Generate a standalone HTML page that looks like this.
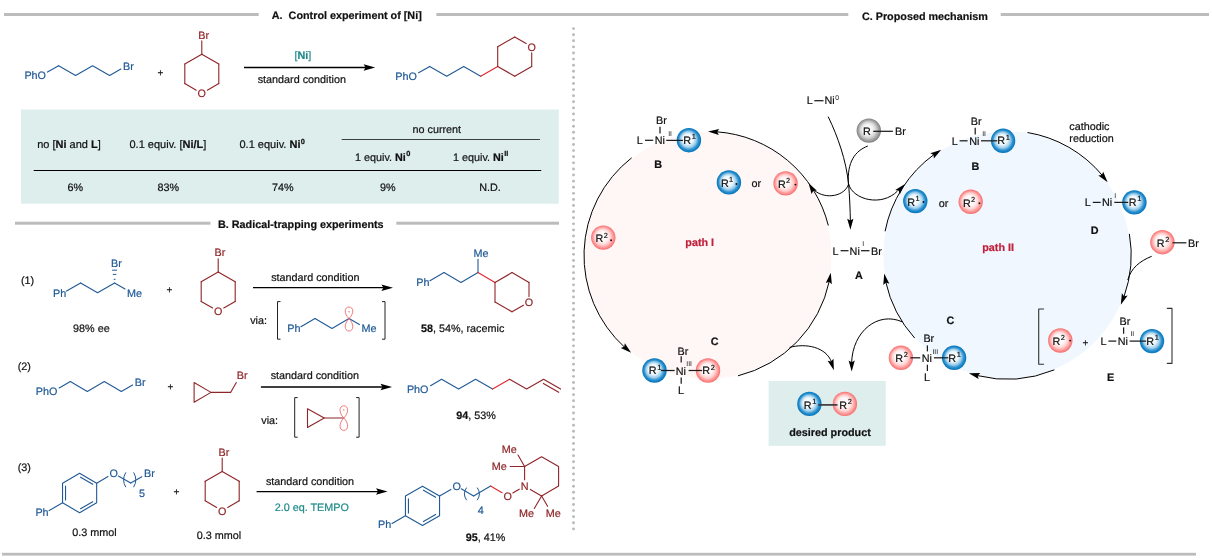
<!DOCTYPE html>
<html><head><meta charset="utf-8"><title>Mechanistic studies</title>
<style>html,body{margin:0;padding:0;background:#fff}svg{display:block;will-change:transform}text{font-family:"Liberation Sans",sans-serif;text-rendering:geometricPrecision}</style>
</head><body>
<svg width="1212" height="560" viewBox="0 0 1212 560">
<defs>
<radialGradient id="gb" cx="0.5" cy="0.5" r="0.5" fx="0.43" fy="0.42"><stop offset="0" stop-color="#ffffff"/><stop offset="0.42" stop-color="#ecf6fc"/><stop offset="0.64" stop-color="#9fcfeb"/><stop offset="0.82" stop-color="#2d91cf"/><stop offset="0.95" stop-color="#0a7cc3"/><stop offset="1" stop-color="#0a70b4"/></radialGradient>
<radialGradient id="gr" cx="0.5" cy="0.5" r="0.5" fx="0.43" fy="0.42"><stop offset="0" stop-color="#ffffff"/><stop offset="0.42" stop-color="#fff6f6"/><stop offset="0.64" stop-color="#ffd5d5"/><stop offset="0.84" stop-color="#ff9999"/><stop offset="0.95" stop-color="#f97a7a"/><stop offset="1" stop-color="#f27070"/></radialGradient>
<radialGradient id="gg" cx="0.5" cy="0.5" r="0.5" fx="0.43" fy="0.42"><stop offset="0" stop-color="#ffffff"/><stop offset="0.42" stop-color="#f2f2f2"/><stop offset="0.64" stop-color="#d3d3d3"/><stop offset="0.84" stop-color="#a2a2a2"/><stop offset="0.95" stop-color="#8a8a8a"/><stop offset="1" stop-color="#7e7e7e"/></radialGradient>
</defs>
<rect width="1212" height="560" fill="#ffffff"/>
<g id="mechanism">
<circle cx="708" cy="255.5" r="123.4" fill="#fff6f6"/>
<circle cx="1007" cy="255" r="123.60000000000001" fill="#f0f7fe"/>
<path d="M631.66,157.79 A124.0,124.0 0 0 0 624.66,347.32" fill="none" stroke="#000" stroke-width="1.0"/>
<polygon points="631.15,352.81 620.80,347.96 624.19,346.80 624.85,343.27" fill="#000"/>
<path d="M738.00,375.82 A124.0,124.0 0 0 0 829.32,281.13" fill="none" stroke="#000" stroke-width="1.0"/>
<polygon points="830.79,272.76 831.83,284.14 829.11,281.80 825.73,283.00" fill="#000"/>
<path d="M828.32,225.50 A124.0,124.0 0 0 0 716.49,131.79" fill="none" stroke="#000" stroke-width="1.0"/>
<polygon points="708.00,131.50 719.13,128.89 717.19,131.91 718.85,135.08" fill="#000"/>
<polygon points="808.57,182.97 816.89,190.80 813.31,190.85 811.58,193.99" fill="#000"/>
<path d="M885.08,231.30 A124.2,124.2 0 0 1 934.14,154.42" fill="none" stroke="#000" stroke-width="1.0"/>
<polygon points="941.18,149.67 933.88,158.46 933.61,154.89 930.37,153.36" fill="#000"/>
<polygon points="905.01,184.12 899.78,194.28 898.74,190.85 895.24,190.05" fill="#000"/>
<path d="M1027.50,132.50 A124.2,124.2 0 0 1 1102.39,175.46" fill="none" stroke="#000" stroke-width="1.0"/>
<polygon points="1107.61,182.17 1098.34,175.48 1101.89,174.97 1103.20,171.63" fill="#000"/>
<path d="M1129.39,233.86 A124.2,124.2 0 0 1 1123.95,296.82" fill="none" stroke="#000" stroke-width="1.0"/>
<polygon points="1120.81,304.72 1121.87,293.34 1124.12,296.14 1127.66,295.57" fill="#000"/>
<path d="M1054.33,369.83 A124.2,124.2 0 0 1 977.00,375.52" fill="none" stroke="#000" stroke-width="1.0"/>
<polygon points="968.83,373.19 980.25,373.11 977.70,375.63 978.61,379.09" fill="#000"/>
<path d="M914.70,338.11 A124.2,124.2 0 0 1 885.75,281.93" fill="none" stroke="#000" stroke-width="1.0"/>
<polygon points="884.20,273.57 889.36,283.77 885.97,282.60 883.28,284.96" fill="#000"/>
<path d="M828.2,116.7 C838,137 846,160 848.6,184 C849.6,196 850.2,210 850.4,222" fill="none" stroke="#000" stroke-width="1.0"/>
<polygon points="850.40,229.80 847.20,218.83 850.32,220.60 853.40,218.77" fill="#000"/>
<path d="M867.8,146 C855,151 847,162 848.4,184" fill="none" stroke="#000" stroke-width="1.0"/>
<path d="M848.6,184 C845,196 826,200 814.5,190.5" fill="none" stroke="#000" stroke-width="1.0"/>
<path d="M848.6,184 C853,200 882,207 897.5,191" fill="none" stroke="#000" stroke-width="1.0"/>
<path d="M789.6,347.4 C806,343 826,347 831.5,362" fill="none" stroke="#000" stroke-width="1.0"/>
<polygon points="833.90,370.20 827.55,360.70 831.06,361.45 833.45,358.78" fill="#000"/>
<path d="M902.4,321.9 C878,311 852.5,331 851.6,363" fill="none" stroke="#000" stroke-width="1.0"/>
<polygon points="851.70,371.50 848.60,360.50 851.70,362.30 854.80,360.50" fill="#000"/>
<path d="M1151.7,256.3 C1140,261 1131,268 1127.8,280" fill="none" stroke="#000" stroke-width="1.0"/>
<text x="656.00" y="124.30" fill="#111" stroke="#111" stroke-width="0.2" font-size="10.8" text-anchor="start">Br</text>
<line x1="660.00" y1="126.80" x2="660.00" y2="133.50" stroke="#1c1c1c" stroke-width="1.25" stroke-linecap="butt"/>
<text x="636.70" y="143.60" fill="#111" stroke="#111" stroke-width="0.2" font-size="10.8" text-anchor="start">L</text>
<line x1="645.00" y1="140.30" x2="653.20" y2="140.30" stroke="#1c1c1c" stroke-width="1.25" stroke-linecap="butt"/>
<text x="654.70" y="143.60" fill="#111" stroke="#111" stroke-width="0.2" font-size="10.8" text-anchor="start">Ni</text>
<text x="668.2" y="135.6" fill="#111" font-size="6.8">II</text>
<circle cx="688.9" cy="140.2" r="12.2" fill="url(#gb)"/>
<line x1="666.20" y1="140.40" x2="683.00" y2="140.40" stroke="#1c1c1c" stroke-width="1.25" stroke-linecap="butt"/>
<text x="683.15" y="143.70" fill="#111" stroke="#111" stroke-width="0.2" font-size="10.8">R<tspan font-size="7.4" dy="-4.8" dx="0.7">1</tspan></text>
<text x="654.30" y="168.40" fill="#111" stroke="#111" stroke-width="0.2" font-size="10.8" font-weight="bold" text-anchor="start">B</text>
<circle cx="728.9" cy="182.4" r="12.2" fill="url(#gb)"/>
<text x="720.90" y="187.20" fill="#111" stroke="#111" stroke-width="0.2" font-size="10.8">R<tspan font-size="7.4" dy="-4.9" dx="0.3">1</tspan></text>
<circle cx="736.40" cy="184.00" r="0.95" fill="#111"/>
<text x="751.40" y="187.20" fill="#111" stroke="#111" stroke-width="0.2" font-size="10.8" text-anchor="start">or</text>
<circle cx="785.6" cy="183.4" r="12.2" fill="url(#gr)"/>
<text x="777.90" y="188.20" fill="#111" stroke="#111" stroke-width="0.2" font-size="10.8">R<tspan font-size="7.4" dy="-4.9" dx="0.3">2</tspan></text>
<circle cx="795.40" cy="184.60" r="0.95" fill="#111"/>
<circle cx="603.3" cy="237.6" r="12.2" fill="url(#gr)"/>
<text x="595.60" y="242.40" fill="#111" stroke="#111" stroke-width="0.2" font-size="10.8">R<tspan font-size="7.4" dy="-4.9" dx="0.3">2</tspan></text>
<circle cx="611.10" cy="240.20" r="0.95" fill="#111"/>
<text x="685.30" y="245.80" fill="#c0203a" stroke="#c0203a" stroke-width="0.2" font-size="10.8" font-weight="bold" text-anchor="start">path I</text>
<text x="710.70" y="345.00" fill="#111" stroke="#111" stroke-width="0.2" font-size="10.8" font-weight="bold" text-anchor="start">C</text>
<text x="677.50" y="354.50" fill="#111" stroke="#111" stroke-width="0.2" font-size="10.8" text-anchor="start">Br</text>
<line x1="681.20" y1="356.20" x2="681.20" y2="362.60" stroke="#1c1c1c" stroke-width="1.25" stroke-linecap="butt"/>
<text x="675.70" y="374.50" fill="#111" stroke="#111" stroke-width="0.2" font-size="10.8" text-anchor="start">Ni</text>
<text x="686.3" y="366" fill="#111" font-size="6.8">III</text>
<line x1="681.20" y1="377.50" x2="681.20" y2="383.80" stroke="#1c1c1c" stroke-width="1.25" stroke-linecap="butt"/>
<text x="678.00" y="393.70" fill="#111" stroke="#111" stroke-width="0.2" font-size="10.8" text-anchor="start">L</text>
<circle cx="654.5" cy="370.5" r="12.2" fill="url(#gb)"/>
<circle cx="708" cy="370.5" r="12.2" fill="url(#gr)"/>
<line x1="661.00" y1="370.50" x2="674.60" y2="370.50" stroke="#1c1c1c" stroke-width="1.25" stroke-linecap="butt"/>
<line x1="688.60" y1="370.50" x2="702.20" y2="370.50" stroke="#1c1c1c" stroke-width="1.25" stroke-linecap="butt"/>
<text x="648.75" y="374.30" fill="#111" stroke="#111" stroke-width="0.2" font-size="10.8">R<tspan font-size="7.4" dy="-4.8" dx="0.7">1</tspan></text>
<text x="702.25" y="374.30" fill="#111" stroke="#111" stroke-width="0.2" font-size="10.8">R<tspan font-size="7.4" dy="-4.8" dx="0.7">2</tspan></text>
<rect x="768.6" y="381" width="117.1" height="64.8" fill="#ddeeed"/>
<circle cx="809.4" cy="403.9" r="12.2" fill="url(#gb)"/>
<circle cx="844.9" cy="403.9" r="12.2" fill="url(#gr)"/>
<line x1="818.20" y1="404.90" x2="837.50" y2="404.90" stroke="#3a3a3a" stroke-width="1.7" stroke-linecap="butt"/>
<text x="803.65" y="408.60" fill="#111" stroke="#111" stroke-width="0.2" font-size="10.8">R<tspan font-size="7.4" dy="-4.8" dx="0.7">1</tspan></text>
<text x="839.15" y="408.60" fill="#111" stroke="#111" stroke-width="0.2" font-size="10.8">R<tspan font-size="7.4" dy="-4.8" dx="0.7">2</tspan></text>
<text x="789.20" y="436.20" fill="#111" stroke="#111" stroke-width="0.2" font-size="10.8" font-weight="bold" text-anchor="start">desired product</text>
<text x="806.80" y="104.40" fill="#111" stroke="#111" stroke-width="0.2" font-size="10.8" text-anchor="start">L</text>
<line x1="814.30" y1="100.70" x2="823.50" y2="100.70" stroke="#1c1c1c" stroke-width="1.25" stroke-linecap="butt"/>
<text x="824.50" y="104.40" fill="#111" stroke="#111" stroke-width="0.2" font-size="10.8" text-anchor="start">Ni</text>
<text x="835.2" y="100" fill="#111" font-size="6.8">0</text>
<circle cx="868.8" cy="130.6" r="12.2" fill="url(#gg)"/>
<line x1="873.20" y1="131.30" x2="892.90" y2="131.30" stroke="#1c1c1c" stroke-width="1.25" stroke-linecap="butt"/>
<text x="863.05" y="135.30" fill="#111" stroke="#111" stroke-width="0.2" font-size="10.8">R</text>
<text x="895.00" y="135.30" fill="#111" stroke="#111" stroke-width="0.2" font-size="10.8" text-anchor="start">Br</text>
<text x="832.50" y="254.50" fill="#111" stroke="#111" stroke-width="0.2" font-size="10.8" text-anchor="start">L</text>
<line x1="840.60" y1="250.70" x2="848.50" y2="250.70" stroke="#1c1c1c" stroke-width="1.25" stroke-linecap="butt"/>
<text x="849.60" y="254.50" fill="#111" stroke="#111" stroke-width="0.2" font-size="10.8" text-anchor="start">Ni</text>
<text x="862.3" y="245.8" fill="#111" font-size="6.8">I</text>
<line x1="861.00" y1="250.70" x2="869.50" y2="250.70" stroke="#1c1c1c" stroke-width="1.25" stroke-linecap="butt"/>
<text x="871.00" y="254.50" fill="#111" stroke="#111" stroke-width="0.2" font-size="10.8" text-anchor="start">Br</text>
<text x="854.90" y="279.30" fill="#111" stroke="#111" stroke-width="0.2" font-size="10.8" font-weight="bold" text-anchor="start">A</text>
<text x="970.70" y="125.30" fill="#111" stroke="#111" stroke-width="0.2" font-size="10.8" text-anchor="start">Br</text>
<line x1="975.20" y1="127.80" x2="975.20" y2="134.40" stroke="#1c1c1c" stroke-width="1.25" stroke-linecap="butt"/>
<text x="951.70" y="144.60" fill="#111" stroke="#111" stroke-width="0.2" font-size="10.8" text-anchor="start">L</text>
<line x1="959.60" y1="140.80" x2="967.60" y2="140.80" stroke="#1c1c1c" stroke-width="1.25" stroke-linecap="butt"/>
<text x="969.30" y="144.60" fill="#111" stroke="#111" stroke-width="0.2" font-size="10.8" text-anchor="start">Ni</text>
<text x="982.2" y="136.2" fill="#111" font-size="6.8">II</text>
<circle cx="1003.1" cy="140.8" r="12.2" fill="url(#gb)"/>
<line x1="981.00" y1="140.80" x2="997.30" y2="140.80" stroke="#1c1c1c" stroke-width="1.25" stroke-linecap="butt"/>
<text x="997.35" y="144.40" fill="#111" stroke="#111" stroke-width="0.2" font-size="10.8">R<tspan font-size="7.4" dy="-4.8" dx="0.7">1</tspan></text>
<text x="971.40" y="170.20" fill="#111" stroke="#111" stroke-width="0.2" font-size="10.8" font-weight="bold" text-anchor="start">B</text>
<circle cx="915.3" cy="201.1" r="12.2" fill="url(#gb)"/>
<text x="907.30" y="205.90" fill="#111" stroke="#111" stroke-width="0.2" font-size="10.8">R<tspan font-size="7.4" dy="-4.9" dx="0.3">1</tspan></text>
<circle cx="923.50" cy="202.00" r="0.95" fill="#111"/>
<text x="938.80" y="206.60" fill="#111" stroke="#111" stroke-width="0.2" font-size="10.8" text-anchor="start">or</text>
<circle cx="970.7" cy="201.8" r="12.2" fill="url(#gr)"/>
<text x="963.00" y="206.60" fill="#111" stroke="#111" stroke-width="0.2" font-size="10.8">R<tspan font-size="7.4" dy="-4.9" dx="0.3">2</tspan></text>
<circle cx="979.40" cy="203.20" r="0.95" fill="#111"/>
<text x="982.20" y="250.70" fill="#c0203a" stroke="#c0203a" stroke-width="0.2" font-size="10.8" font-weight="bold" text-anchor="start">path II</text>
<text x="1069.30" y="129.50" fill="#111" stroke="#111" stroke-width="0.2" font-size="10.8" text-anchor="start">cathodic</text>
<text x="1069.30" y="142.20" fill="#111" stroke="#111" stroke-width="0.2" font-size="10.8" text-anchor="start">reduction</text>
<text x="1084.70" y="206.00" fill="#111" stroke="#111" stroke-width="0.2" font-size="10.8" text-anchor="start">L</text>
<line x1="1092.80" y1="202.40" x2="1100.70" y2="202.40" stroke="#1c1c1c" stroke-width="1.25" stroke-linecap="butt"/>
<text x="1102.00" y="206.00" fill="#111" stroke="#111" stroke-width="0.2" font-size="10.8" text-anchor="start">Ni</text>
<text x="1114.2" y="197.6" fill="#111" font-size="6.8">I</text>
<circle cx="1134.4" cy="202.4" r="12.2" fill="url(#gb)"/>
<line x1="1114.30" y1="202.40" x2="1128.20" y2="202.40" stroke="#1c1c1c" stroke-width="1.25" stroke-linecap="butt"/>
<text x="1128.65" y="205.90" fill="#111" stroke="#111" stroke-width="0.2" font-size="10.8">R<tspan font-size="7.4" dy="-4.8" dx="0.7">1</tspan></text>
<text x="1090.70" y="233.80" fill="#111" stroke="#111" stroke-width="0.2" font-size="10.8" font-weight="bold" text-anchor="start">D</text>
<circle cx="1162.4" cy="242.2" r="12.2" fill="url(#gr)"/>
<line x1="1172.50" y1="242.80" x2="1186.40" y2="242.80" stroke="#1c1c1c" stroke-width="1.25" stroke-linecap="butt"/>
<text x="1156.65" y="246.70" fill="#111" stroke="#111" stroke-width="0.2" font-size="10.8">R<tspan font-size="7.4" dy="-4.8" dx="0.7">2</tspan></text>
<text x="1188.10" y="246.70" fill="#111" stroke="#111" stroke-width="0.2" font-size="10.8" text-anchor="start">Br</text>
<path d="M1043.60,309.00 L1038.70,309.00 L1038.70,364.30 L1043.60,364.30" fill="none" stroke="#333" stroke-width="1.1" stroke-linecap="round" stroke-linejoin="round"/>
<path d="M1167.30,308.40 L1172.00,308.40 L1172.00,363.40 L1167.30,363.40" fill="none" stroke="#333" stroke-width="1.1" stroke-linecap="round" stroke-linejoin="round"/>
<circle cx="1060.3" cy="340.5" r="12.2" fill="url(#gr)"/>
<text x="1052.60" y="345.30" fill="#111" stroke="#111" stroke-width="0.2" font-size="10.8">R<tspan font-size="7.4" dy="-4.9" dx="0.3">2</tspan></text>
<circle cx="1070.10" cy="340.60" r="0.95" fill="#111"/>
<text x="1085.40" y="346.15" fill="#111111" stroke="#111111" stroke-width="0.2" font-size="10.0" text-anchor="middle">+</text>
<text x="1100.60" y="344.70" fill="#111" stroke="#111" stroke-width="0.2" font-size="10.8" text-anchor="start">L</text>
<line x1="1108.40" y1="341.10" x2="1116.30" y2="341.10" stroke="#1c1c1c" stroke-width="1.25" stroke-linecap="butt"/>
<text x="1117.70" y="344.70" fill="#111" stroke="#111" stroke-width="0.2" font-size="10.8" text-anchor="start">Ni</text>
<text x="1119.60" y="325.00" fill="#111" stroke="#111" stroke-width="0.2" font-size="10.8" text-anchor="start">Br</text>
<line x1="1123.60" y1="327.40" x2="1123.60" y2="333.80" stroke="#1c1c1c" stroke-width="1.25" stroke-linecap="butt"/>
<text x="1130.4" y="336.3" fill="#111" font-size="6.8">II</text>
<circle cx="1152" cy="341.1" r="12.2" fill="url(#gb)"/>
<line x1="1129.60" y1="341.10" x2="1146.20" y2="341.10" stroke="#1c1c1c" stroke-width="1.25" stroke-linecap="butt"/>
<text x="1146.25" y="344.60" fill="#111" stroke="#111" stroke-width="0.2" font-size="10.8">R<tspan font-size="7.4" dy="-4.8" dx="0.7">1</tspan></text>
<text x="1106.90" y="380.80" fill="#111" stroke="#111" stroke-width="0.2" font-size="10.8" font-weight="bold" text-anchor="start">E</text>
<text x="946.60" y="323.80" fill="#111" stroke="#111" stroke-width="0.2" font-size="10.8" font-weight="bold" text-anchor="start">C</text>
<text x="923.40" y="341.50" fill="#111" stroke="#111" stroke-width="0.2" font-size="10.8" text-anchor="start">Br</text>
<line x1="927.40" y1="345.40" x2="927.40" y2="351.40" stroke="#1c1c1c" stroke-width="1.25" stroke-linecap="butt"/>
<text x="921.70" y="361.80" fill="#111" stroke="#111" stroke-width="0.2" font-size="10.8" text-anchor="start">Ni</text>
<text x="932.4" y="353.9" fill="#111" font-size="6.8">III</text>
<line x1="927.40" y1="364.70" x2="927.40" y2="371.00" stroke="#1c1c1c" stroke-width="1.25" stroke-linecap="butt"/>
<text x="924.00" y="380.80" fill="#111" stroke="#111" stroke-width="0.2" font-size="10.8" text-anchor="start">L</text>
<circle cx="900.9" cy="357.8" r="12.2" fill="url(#gr)"/>
<circle cx="954.1" cy="357.8" r="12.2" fill="url(#gb)"/>
<line x1="910.30" y1="357.80" x2="920.20" y2="357.80" stroke="#1c1c1c" stroke-width="1.25" stroke-linecap="butt"/>
<line x1="933.90" y1="357.80" x2="948.30" y2="357.80" stroke="#1c1c1c" stroke-width="1.25" stroke-linecap="butt"/>
<text x="895.15" y="361.70" fill="#111" stroke="#111" stroke-width="0.2" font-size="10.8">R<tspan font-size="7.4" dy="-4.8" dx="0.7">2</tspan></text>
<text x="948.35" y="361.70" fill="#111" stroke="#111" stroke-width="0.2" font-size="10.8">R<tspan font-size="7.4" dy="-4.8" dx="0.7">1</tspan></text>
</g>
<g id="experiments">
<rect x="4" y="13" width="254.70" height="3.00" fill="#bcbcbc"/>
<rect x="436.4" y="13" width="411.90" height="3.00" fill="#bcbcbc"/>
<rect x="1000.7" y="13" width="208.30" height="3.00" fill="#bcbcbc"/>
<text x="271.80" y="18.80" fill="#111" stroke="#111" stroke-width="0.2" font-size="10.8" font-weight="bold" text-anchor="start" style="white-space:pre">A.  Control experiment of [Ni]</text>
<text x="861.90" y="19.60" fill="#111" stroke="#111" stroke-width="0.2" font-size="10.8" font-weight="bold" text-anchor="start">C. Proposed mechanism</text>
<rect x="15" y="221.7" width="195.50" height="3.00" fill="#bcbcbc"/>
<rect x="396.3" y="221.7" width="162.70" height="3.00" fill="#bcbcbc"/>
<text x="218.00" y="228.10" fill="#111" stroke="#111" stroke-width="0.2" font-size="10.8" font-weight="bold" text-anchor="start">B. Radical-trapping experiments</text>
<rect x="2" y="552.8" width="1194.00" height="2.80" fill="#bcbcbc"/>
<circle cx="573.5" cy="28.60" r="1.45" fill="#b9b9b9"/>
<circle cx="573.5" cy="34.70" r="1.45" fill="#b9b9b9"/>
<circle cx="573.5" cy="40.80" r="1.45" fill="#b9b9b9"/>
<circle cx="573.5" cy="46.90" r="1.45" fill="#b9b9b9"/>
<circle cx="573.5" cy="53.00" r="1.45" fill="#b9b9b9"/>
<circle cx="573.5" cy="59.11" r="1.45" fill="#b9b9b9"/>
<circle cx="573.5" cy="65.21" r="1.45" fill="#b9b9b9"/>
<circle cx="573.5" cy="71.31" r="1.45" fill="#b9b9b9"/>
<circle cx="573.5" cy="77.41" r="1.45" fill="#b9b9b9"/>
<circle cx="573.5" cy="83.51" r="1.45" fill="#b9b9b9"/>
<circle cx="573.5" cy="89.61" r="1.45" fill="#b9b9b9"/>
<circle cx="573.5" cy="95.71" r="1.45" fill="#b9b9b9"/>
<circle cx="573.5" cy="101.81" r="1.45" fill="#b9b9b9"/>
<circle cx="573.5" cy="107.92" r="1.45" fill="#b9b9b9"/>
<circle cx="573.5" cy="114.02" r="1.45" fill="#b9b9b9"/>
<circle cx="573.5" cy="120.12" r="1.45" fill="#b9b9b9"/>
<circle cx="573.5" cy="126.22" r="1.45" fill="#b9b9b9"/>
<circle cx="573.5" cy="132.32" r="1.45" fill="#b9b9b9"/>
<circle cx="573.5" cy="138.42" r="1.45" fill="#b9b9b9"/>
<circle cx="573.5" cy="144.52" r="1.45" fill="#b9b9b9"/>
<circle cx="573.5" cy="150.62" r="1.45" fill="#b9b9b9"/>
<circle cx="573.5" cy="156.73" r="1.45" fill="#b9b9b9"/>
<circle cx="573.5" cy="162.83" r="1.45" fill="#b9b9b9"/>
<circle cx="573.5" cy="168.93" r="1.45" fill="#b9b9b9"/>
<circle cx="573.5" cy="175.03" r="1.45" fill="#b9b9b9"/>
<circle cx="573.5" cy="181.13" r="1.45" fill="#b9b9b9"/>
<circle cx="573.5" cy="187.23" r="1.45" fill="#b9b9b9"/>
<circle cx="573.5" cy="193.33" r="1.45" fill="#b9b9b9"/>
<circle cx="573.5" cy="199.43" r="1.45" fill="#b9b9b9"/>
<circle cx="573.5" cy="205.54" r="1.45" fill="#b9b9b9"/>
<circle cx="573.5" cy="211.64" r="1.45" fill="#b9b9b9"/>
<circle cx="573.5" cy="217.74" r="1.45" fill="#b9b9b9"/>
<circle cx="573.5" cy="223.84" r="1.45" fill="#b9b9b9"/>
<circle cx="573.5" cy="229.94" r="1.45" fill="#b9b9b9"/>
<circle cx="573.5" cy="236.04" r="1.45" fill="#b9b9b9"/>
<circle cx="573.5" cy="242.14" r="1.45" fill="#b9b9b9"/>
<circle cx="573.5" cy="248.24" r="1.45" fill="#b9b9b9"/>
<circle cx="573.5" cy="254.35" r="1.45" fill="#b9b9b9"/>
<circle cx="573.5" cy="260.45" r="1.45" fill="#b9b9b9"/>
<circle cx="573.5" cy="266.55" r="1.45" fill="#b9b9b9"/>
<circle cx="573.5" cy="272.65" r="1.45" fill="#b9b9b9"/>
<circle cx="573.5" cy="278.75" r="1.45" fill="#b9b9b9"/>
<circle cx="573.5" cy="284.85" r="1.45" fill="#b9b9b9"/>
<circle cx="573.5" cy="290.95" r="1.45" fill="#b9b9b9"/>
<circle cx="573.5" cy="297.05" r="1.45" fill="#b9b9b9"/>
<circle cx="573.5" cy="303.15" r="1.45" fill="#b9b9b9"/>
<circle cx="573.5" cy="309.26" r="1.45" fill="#b9b9b9"/>
<circle cx="573.5" cy="315.36" r="1.45" fill="#b9b9b9"/>
<circle cx="573.5" cy="321.46" r="1.45" fill="#b9b9b9"/>
<circle cx="573.5" cy="327.56" r="1.45" fill="#b9b9b9"/>
<circle cx="573.5" cy="333.66" r="1.45" fill="#b9b9b9"/>
<circle cx="573.5" cy="339.76" r="1.45" fill="#b9b9b9"/>
<circle cx="573.5" cy="345.86" r="1.45" fill="#b9b9b9"/>
<circle cx="573.5" cy="351.96" r="1.45" fill="#b9b9b9"/>
<circle cx="573.5" cy="358.07" r="1.45" fill="#b9b9b9"/>
<circle cx="573.5" cy="364.17" r="1.45" fill="#b9b9b9"/>
<circle cx="573.5" cy="370.27" r="1.45" fill="#b9b9b9"/>
<circle cx="573.5" cy="376.37" r="1.45" fill="#b9b9b9"/>
<circle cx="573.5" cy="382.47" r="1.45" fill="#b9b9b9"/>
<circle cx="573.5" cy="388.57" r="1.45" fill="#b9b9b9"/>
<circle cx="573.5" cy="394.67" r="1.45" fill="#b9b9b9"/>
<circle cx="573.5" cy="400.77" r="1.45" fill="#b9b9b9"/>
<circle cx="573.5" cy="406.88" r="1.45" fill="#b9b9b9"/>
<circle cx="573.5" cy="412.98" r="1.45" fill="#b9b9b9"/>
<circle cx="573.5" cy="419.08" r="1.45" fill="#b9b9b9"/>
<circle cx="573.5" cy="425.18" r="1.45" fill="#b9b9b9"/>
<circle cx="573.5" cy="431.28" r="1.45" fill="#b9b9b9"/>
<circle cx="573.5" cy="437.38" r="1.45" fill="#b9b9b9"/>
<circle cx="573.5" cy="443.48" r="1.45" fill="#b9b9b9"/>
<circle cx="573.5" cy="449.58" r="1.45" fill="#b9b9b9"/>
<circle cx="573.5" cy="455.69" r="1.45" fill="#b9b9b9"/>
<circle cx="573.5" cy="461.79" r="1.45" fill="#b9b9b9"/>
<circle cx="573.5" cy="467.89" r="1.45" fill="#b9b9b9"/>
<circle cx="573.5" cy="473.99" r="1.45" fill="#b9b9b9"/>
<circle cx="573.5" cy="480.09" r="1.45" fill="#b9b9b9"/>
<circle cx="573.5" cy="486.19" r="1.45" fill="#b9b9b9"/>
<circle cx="573.5" cy="492.29" r="1.45" fill="#b9b9b9"/>
<circle cx="573.5" cy="498.39" r="1.45" fill="#b9b9b9"/>
<circle cx="573.5" cy="504.50" r="1.45" fill="#b9b9b9"/>
<circle cx="573.5" cy="510.60" r="1.45" fill="#b9b9b9"/>
<circle cx="573.5" cy="516.70" r="1.45" fill="#b9b9b9"/>
<circle cx="573.5" cy="522.80" r="1.45" fill="#b9b9b9"/>
<circle cx="573.5" cy="528.90" r="1.45" fill="#b9b9b9"/>
<text x="24.40" y="79.40" fill="#215a96" stroke="#215a96" stroke-width="0.2" font-size="10.8" text-anchor="start">PhO</text>
<line x1="47.49" y1="72.10" x2="58.60" y2="65.70" stroke="#215a96" stroke-width="1.1" stroke-linecap="round"/>
<path d="M58.60,65.70 L75.60,75.50 L92.60,65.70 L109.60,75.50" fill="none" stroke="#215a96" stroke-width="1.1" stroke-linecap="round" stroke-linejoin="round"/>
<line x1="109.60" y1="75.50" x2="120.88" y2="69.00" stroke="#215a96" stroke-width="1.1" stroke-linecap="round"/>
<text x="123.00" y="69.60" fill="#215a96" stroke="#215a96" stroke-width="0.2" font-size="10.8" text-anchor="start">Br</text>
<text x="160.30" y="75.95" fill="#111111" stroke="#111111" stroke-width="0.2" font-size="10.0" text-anchor="middle">+</text>
<line x1="201.80" y1="54.20" x2="218.80" y2="64.00" stroke="#8e2528" stroke-width="1.1" stroke-linecap="round"/>
<line x1="218.80" y1="64.00" x2="218.80" y2="83.60" stroke="#8e2528" stroke-width="1.1" stroke-linecap="round"/>
<line x1="218.80" y1="83.60" x2="207.34" y2="90.20" stroke="#8e2528" stroke-width="1.1" stroke-linecap="round"/>
<line x1="196.26" y1="90.20" x2="184.80" y2="83.60" stroke="#8e2528" stroke-width="1.1" stroke-linecap="round"/>
<line x1="184.80" y1="83.60" x2="184.80" y2="64.00" stroke="#8e2528" stroke-width="1.1" stroke-linecap="round"/>
<line x1="184.80" y1="64.00" x2="201.80" y2="54.20" stroke="#8e2528" stroke-width="1.1" stroke-linecap="round"/>
<text x="197.60" y="97.30" fill="#8e2528" stroke="#8e2528" stroke-width="0.2" font-size="10.8" text-anchor="start">O</text>
<line x1="201.80" y1="40.90" x2="201.80" y2="54.20" stroke="#8e2528" stroke-width="1.1" stroke-linecap="round"/>
<text x="198.20" y="38.50" fill="#8e2528" stroke="#8e2528" stroke-width="0.2" font-size="10.8" text-anchor="start">Br</text>
<line x1="244.00" y1="67.50" x2="366.20" y2="67.50" stroke="#000" stroke-width="1.3" stroke-linecap="butt"/>
<polygon points="375.20,67.50 363.60,70.75 365.60,67.50 363.60,64.25" fill="#000"/>
<text x="294.4" y="59.4" fill="#1f8a8c" stroke="#1f8a8c" stroke-width="0.2" font-size="10.8">[<tspan font-weight="bold">Ni</tspan>]</text>
<text x="257.70" y="83.00" fill="#111111" stroke="#111111" stroke-width="0.2" font-size="10.8" text-anchor="start">standard condition</text>
<text x="395.30" y="79.90" fill="#215a96" stroke="#215a96" stroke-width="0.2" font-size="10.8" text-anchor="start">PhO</text>
<line x1="418.59" y1="72.80" x2="429.70" y2="66.40" stroke="#215a96" stroke-width="1.1" stroke-linecap="round"/>
<path d="M429.70,66.40 L446.70,76.20 L463.70,66.40 L480.70,76.20" fill="none" stroke="#215a96" stroke-width="1.1" stroke-linecap="round" stroke-linejoin="round"/>
<line x1="480.70" y1="76.20" x2="497.70" y2="66.40" stroke="#e0282c" stroke-width="1.1" stroke-linecap="round"/>
<line x1="497.70" y1="66.40" x2="497.70" y2="46.80" stroke="#8e2528" stroke-width="1.1" stroke-linecap="round"/>
<line x1="497.70" y1="46.80" x2="514.70" y2="37.00" stroke="#8e2528" stroke-width="1.1" stroke-linecap="round"/>
<line x1="514.70" y1="37.00" x2="526.16" y2="43.60" stroke="#8e2528" stroke-width="1.1" stroke-linecap="round"/>
<line x1="531.70" y1="52.80" x2="531.70" y2="66.40" stroke="#8e2528" stroke-width="1.1" stroke-linecap="round"/>
<line x1="531.70" y1="66.40" x2="514.70" y2="76.20" stroke="#8e2528" stroke-width="1.1" stroke-linecap="round"/>
<line x1="514.70" y1="76.20" x2="497.70" y2="66.40" stroke="#8e2528" stroke-width="1.1" stroke-linecap="round"/>
<text x="527.50" y="50.70" fill="#8e2528" stroke="#8e2528" stroke-width="0.2" font-size="10.8" text-anchor="start">O</text>
<rect x="21" y="109.5" width="537.7" height="94.2" fill="#ddeeed"/>
<text x="37.20" y="148.00" fill="#111111" stroke="#111111" stroke-width="0.2" font-size="11" text-anchor="start">no [<tspan font-weight="bold">Ni</tspan> and <tspan font-weight="bold">L</tspan>]</text>
<text x="129.50" y="148.00" fill="#111111" stroke="#111111" stroke-width="0.2" font-size="11" text-anchor="start">0.1 equiv. [<tspan font-weight="bold">Ni/L</tspan>]</text>
<text x="239.50" y="148.00" fill="#111111" stroke="#111111" stroke-width="0.2" font-size="11" text-anchor="start">0.1 equiv. <tspan font-weight="bold">Ni</tspan><tspan font-weight="bold" font-size="7.4" dx="0.4" dy="-4.2">0</tspan></text>
<text x="412.50" y="133.00" fill="#111111" stroke="#111111" stroke-width="0.2" font-size="10.8" text-anchor="start">no current</text>
<line x1="341.70" y1="139.50" x2="540.00" y2="139.50" stroke="#111" stroke-width="0.8" stroke-linecap="butt"/>
<text x="355.00" y="160.50" fill="#111111" stroke="#111111" stroke-width="0.2" font-size="10.8" text-anchor="start">1 equiv. <tspan font-weight="bold">Ni</tspan><tspan font-weight="bold" font-size="7.4" dx="0.4" dy="-4.2">0</tspan></text>
<text x="453.00" y="160.50" fill="#111111" stroke="#111111" stroke-width="0.2" font-size="10.8" text-anchor="start">1 equiv. <tspan font-weight="bold">Ni</tspan><tspan font-weight="bold" font-size="7.4" dx="0.4" dy="-4.2">II</tspan></text>
<line x1="33.70" y1="170.50" x2="541.20" y2="170.50" stroke="#000" stroke-width="1.15" stroke-linecap="butt"/>
<text x="67.50" y="191.20" fill="#111111" stroke="#111111" stroke-width="0.2" font-size="10.8" text-anchor="start">6%</text>
<text x="157.50" y="191.20" fill="#111111" stroke="#111111" stroke-width="0.2" font-size="10.8" text-anchor="start">83%</text>
<text x="272.00" y="191.20" fill="#111111" stroke="#111111" stroke-width="0.2" font-size="10.8" text-anchor="start">74%</text>
<text x="380.00" y="191.20" fill="#111111" stroke="#111111" stroke-width="0.2" font-size="10.8" text-anchor="start">9%</text>
<text x="479.20" y="191.20" fill="#111111" stroke="#111111" stroke-width="0.2" font-size="10.8" text-anchor="start">N.D.</text>
<text x="20.90" y="284.00" fill="#111111" stroke="#111111" stroke-width="0.2" font-size="10.8" text-anchor="start">(1)</text>
<text x="53.00" y="296.70" fill="#215a96" stroke="#215a96" stroke-width="0.2" font-size="10.8" text-anchor="start">Ph</text>
<line x1="66.55" y1="291.10" x2="80.60" y2="283.00" stroke="#215a96" stroke-width="1.1" stroke-linecap="round"/>
<path d="M80.60,283.00 L97.60,292.80 L114.60,283.00" fill="none" stroke="#215a96" stroke-width="1.1" stroke-linecap="round" stroke-linejoin="round"/>
<line x1="114.60" y1="283.00" x2="125.02" y2="289.00" stroke="#215a96" stroke-width="1.1" stroke-linecap="round"/>
<text x="127.10" y="296.70" fill="#215a96" stroke="#215a96" stroke-width="0.2" font-size="10.8" text-anchor="start">Me</text>
<text x="111.00" y="267.30" fill="#215a96" stroke="#215a96" stroke-width="0.2" font-size="10.8" text-anchor="start">Br</text>
<line x1="112.10" y1="270.20" x2="117.10" y2="270.20" stroke="#215a96" stroke-width="1.0" stroke-linecap="butt"/>
<line x1="112.90" y1="274.40" x2="116.30" y2="274.40" stroke="#215a96" stroke-width="1.0" stroke-linecap="butt"/>
<line x1="113.70" y1="279.30" x2="115.50" y2="279.30" stroke="#215a96" stroke-width="1.0" stroke-linecap="butt"/>
<text x="73.10" y="332.00" fill="#111111" stroke="#111111" stroke-width="0.2" font-size="10.8" text-anchor="start">98% ee</text>
<text x="169.50" y="292.95" fill="#111111" stroke="#111111" stroke-width="0.2" font-size="10.0" text-anchor="middle">+</text>
<line x1="218.20" y1="272.00" x2="235.20" y2="281.80" stroke="#8e2528" stroke-width="1.1" stroke-linecap="round"/>
<line x1="235.20" y1="281.80" x2="235.20" y2="301.40" stroke="#8e2528" stroke-width="1.1" stroke-linecap="round"/>
<line x1="235.20" y1="301.40" x2="223.74" y2="308.00" stroke="#8e2528" stroke-width="1.1" stroke-linecap="round"/>
<line x1="212.66" y1="308.00" x2="201.20" y2="301.40" stroke="#8e2528" stroke-width="1.1" stroke-linecap="round"/>
<line x1="201.20" y1="301.40" x2="201.20" y2="281.80" stroke="#8e2528" stroke-width="1.1" stroke-linecap="round"/>
<line x1="201.20" y1="281.80" x2="218.20" y2="272.00" stroke="#8e2528" stroke-width="1.1" stroke-linecap="round"/>
<text x="214.00" y="315.10" fill="#8e2528" stroke="#8e2528" stroke-width="0.2" font-size="10.8" text-anchor="start">O</text>
<line x1="218.20" y1="258.70" x2="218.20" y2="272.00" stroke="#8e2528" stroke-width="1.1" stroke-linecap="round"/>
<text x="214.60" y="256.30" fill="#8e2528" stroke="#8e2528" stroke-width="0.2" font-size="10.8" text-anchor="start">Br</text>
<line x1="253.00" y1="287.70" x2="384.00" y2="287.70" stroke="#000" stroke-width="1.3" stroke-linecap="butt"/>
<polygon points="393.00,287.70 381.40,290.95 383.40,287.70 381.40,284.45" fill="#000"/>
<text x="271.20" y="281.00" fill="#111111" stroke="#111111" stroke-width="0.2" font-size="10.8" text-anchor="start">standard condition</text>
<text x="250.20" y="323.50" fill="#111111" stroke="#111111" stroke-width="0.2" font-size="10.8" text-anchor="start">via:</text>
<path d="M280.10,301.60 L277.50,301.60 L277.50,339.20 L280.10,339.20" fill="none" stroke="#222" stroke-width="1.0" stroke-linecap="round" stroke-linejoin="round"/>
<path d="M382.40,301.60 L385.00,301.60 L385.00,339.20 L382.40,339.20" fill="none" stroke="#222" stroke-width="1.0" stroke-linecap="round" stroke-linejoin="round"/>
<text x="287.30" y="332.30" fill="#215a96" stroke="#215a96" stroke-width="0.2" font-size="10.8" text-anchor="start">Ph</text>
<line x1="300.95" y1="326.70" x2="315.00" y2="318.60" stroke="#215a96" stroke-width="1.1" stroke-linecap="round"/>
<path d="M315.00,318.60 L332.00,328.40 L349.00,318.60" fill="none" stroke="#215a96" stroke-width="1.1" stroke-linecap="round" stroke-linejoin="round"/>
<line x1="349.00" y1="318.60" x2="359.42" y2="324.60" stroke="#215a96" stroke-width="1.1" stroke-linecap="round"/>
<text x="361.50" y="332.30" fill="#215a96" stroke="#215a96" stroke-width="0.2" font-size="10.8" text-anchor="start">Me</text>
<path d="M349.0,318.59999999999997 C343.60,313.38 344.32,307.00 349.0,307.00 C353.68,307.00 354.40,313.38 349.0,318.59999999999997 Z" fill="none" stroke="#f06a6a" stroke-width="0.9"/>
<path d="M349.0,318.59999999999997 C343.60,324.18 344.32,331.00 349.0,331.00 C353.68,331.00 354.40,324.18 349.0,318.59999999999997 Z" fill="none" stroke="#f06a6a" stroke-width="0.9"/>
<circle cx="349.0" cy="311.8" r="0.7" fill="#f06a6a"/>
<text x="416.30" y="286.30" fill="#215a96" stroke="#215a96" stroke-width="0.2" font-size="10.8" text-anchor="start">Ph</text>
<line x1="429.95" y1="280.70" x2="444.00" y2="272.60" stroke="#215a96" stroke-width="1.1" stroke-linecap="round"/>
<path d="M444.00,272.60 L461.00,282.40 L478.00,272.60" fill="none" stroke="#215a96" stroke-width="1.1" stroke-linecap="round" stroke-linejoin="round"/>
<line x1="478.00" y1="272.60" x2="478.00" y2="259.40" stroke="#215a96" stroke-width="1.1" stroke-linecap="round"/>
<text x="473.50" y="256.90" fill="#215a96" stroke="#215a96" stroke-width="0.2" font-size="10.8" text-anchor="start">Me</text>
<line x1="478.00" y1="272.60" x2="495.00" y2="282.40" stroke="#e0282c" stroke-width="1.1" stroke-linecap="round"/>
<line x1="495.00" y1="282.40" x2="512.00" y2="272.60" stroke="#8e2528" stroke-width="1.1" stroke-linecap="round"/>
<line x1="512.00" y1="272.60" x2="529.00" y2="282.40" stroke="#8e2528" stroke-width="1.1" stroke-linecap="round"/>
<line x1="529.00" y1="282.40" x2="529.00" y2="296.40" stroke="#8e2528" stroke-width="1.1" stroke-linecap="round"/>
<line x1="523.46" y1="305.20" x2="512.00" y2="311.80" stroke="#8e2528" stroke-width="1.1" stroke-linecap="round"/>
<line x1="512.00" y1="311.80" x2="495.00" y2="302.00" stroke="#8e2528" stroke-width="1.1" stroke-linecap="round"/>
<line x1="495.00" y1="302.00" x2="495.00" y2="282.40" stroke="#8e2528" stroke-width="1.1" stroke-linecap="round"/>
<text x="524.80" y="305.90" fill="#8e2528" stroke="#8e2528" stroke-width="0.2" font-size="10.8" text-anchor="start">O</text>
<text x="420.90" y="332.00" fill="#111111" stroke="#111111" stroke-width="0.2" font-size="10.8" text-anchor="start"><tspan font-weight="bold">58</tspan>, 54%, racemic</text>
<text x="17.70" y="369.50" fill="#111111" stroke="#111111" stroke-width="0.2" font-size="10.8" text-anchor="start">(2)</text>
<text x="35.80" y="395.20" fill="#215a96" stroke="#215a96" stroke-width="0.2" font-size="10.8" text-anchor="start">PhO</text>
<line x1="59.19" y1="388.00" x2="70.30" y2="381.60" stroke="#215a96" stroke-width="1.1" stroke-linecap="round"/>
<path d="M70.30,381.60 L87.30,391.40 L104.30,381.60 L121.30,391.40" fill="none" stroke="#215a96" stroke-width="1.1" stroke-linecap="round" stroke-linejoin="round"/>
<line x1="121.30" y1="391.40" x2="132.58" y2="384.90" stroke="#215a96" stroke-width="1.1" stroke-linecap="round"/>
<text x="134.70" y="385.50" fill="#215a96" stroke="#215a96" stroke-width="0.2" font-size="10.8" text-anchor="start">Br</text>
<text x="170.30" y="390.05" fill="#111111" stroke="#111111" stroke-width="0.2" font-size="10.0" text-anchor="middle">+</text>
<path d="M194.10,382.50 L194.10,402.30 L211.00,392.40 Z" fill="none" stroke="#8e2528" stroke-width="1.1" stroke-linecap="round" stroke-linejoin="round"/>
<line x1="211.00" y1="392.40" x2="230.60" y2="392.40" stroke="#8e2528" stroke-width="1.1" stroke-linecap="round"/>
<line x1="230.60" y1="392.40" x2="236.30" y2="382.50" stroke="#8e2528" stroke-width="1.1" stroke-linecap="round"/>
<text x="236.80" y="379.30" fill="#8e2528" stroke="#8e2528" stroke-width="0.2" font-size="10.8" text-anchor="start">Br</text>
<line x1="260.90" y1="387.00" x2="383.10" y2="387.00" stroke="#000" stroke-width="1.3" stroke-linecap="butt"/>
<polygon points="392.10,387.00 380.50,390.25 382.50,387.00 380.50,383.75" fill="#000"/>
<text x="270.70" y="379.30" fill="#111111" stroke="#111111" stroke-width="0.2" font-size="10.8" text-anchor="start">standard condition</text>
<text x="261.30" y="423.90" fill="#111111" stroke="#111111" stroke-width="0.2" font-size="10.8" text-anchor="start">via:</text>
<path d="M297.30,397.60 L294.70,397.60 L294.70,437.20 L297.30,437.20" fill="none" stroke="#222" stroke-width="1.0" stroke-linecap="round" stroke-linejoin="round"/>
<path d="M356.50,397.60 L359.10,397.60 L359.10,437.20 L356.50,437.20" fill="none" stroke="#222" stroke-width="1.0" stroke-linecap="round" stroke-linejoin="round"/>
<path d="M307.50,408.80 L307.50,427.40 L324.20,418.00 Z" fill="none" stroke="#8e2528" stroke-width="1.1" stroke-linecap="round" stroke-linejoin="round"/>
<line x1="324.20" y1="418.00" x2="343.80" y2="418.00" stroke="#8e2528" stroke-width="1.1" stroke-linecap="round"/>
<path d="M343.8,418 C338.40,412.51 339.12,405.80 343.8,405.80 C348.48,405.80 349.20,412.51 343.8,418 Z" fill="none" stroke="#f06a6a" stroke-width="0.9"/>
<path d="M343.8,418 C338.40,423.58 339.12,430.40 343.8,430.40 C348.48,430.40 349.20,423.58 343.8,418 Z" fill="none" stroke="#f06a6a" stroke-width="0.9"/>
<circle cx="343.8" cy="409.9" r="0.7" fill="#f06a6a"/>
<text x="406.90" y="392.80" fill="#215a96" stroke="#215a96" stroke-width="0.2" font-size="10.8" text-anchor="start">PhO</text>
<line x1="430.49" y1="385.70" x2="441.60" y2="379.30" stroke="#215a96" stroke-width="1.1" stroke-linecap="round"/>
<path d="M441.60,379.30 L458.60,389.10 L475.60,379.30 L492.60,389.10" fill="none" stroke="#215a96" stroke-width="1.1" stroke-linecap="round" stroke-linejoin="round"/>
<line x1="492.60" y1="389.10" x2="509.60" y2="379.30" stroke="#e0282c" stroke-width="1.1" stroke-linecap="round"/>
<path d="M509.60,379.30 L526.60,389.10 L543.60,379.30 L560.60,389.10" fill="none" stroke="#8e2528" stroke-width="1.1" stroke-linecap="round" stroke-linejoin="round"/>
<line x1="543.40" y1="383.40" x2="558.70" y2="392.30" stroke="#8e2528" stroke-width="1.1" stroke-linecap="round"/>
<text x="456.20" y="418.60" fill="#111111" stroke="#111111" stroke-width="0.2" font-size="10.8" text-anchor="start"><tspan font-weight="bold">94</tspan>, 53%</text>
<text x="17.70" y="471.40" fill="#111111" stroke="#111111" stroke-width="0.2" font-size="10.8" text-anchor="start">(3)</text>
<text x="35.40" y="515.70" fill="#215a96" stroke="#215a96" stroke-width="0.2" font-size="10.8" text-anchor="start">Ph</text>
<path d="M79.60,473.30 L96.66,483.15 L96.66,502.85 L79.60,512.70 L62.54,502.85 L62.54,483.15 Z" fill="none" stroke="#215a96" stroke-width="1.1" stroke-linecap="round" stroke-linejoin="round"/>
<line x1="80.52" y1="477.30" x2="92.74" y2="484.35" stroke="#215a96" stroke-width="1.1" stroke-linecap="round"/>
<line x1="92.74" y1="501.65" x2="80.52" y2="508.70" stroke="#215a96" stroke-width="1.1" stroke-linecap="round"/>
<line x1="65.54" y1="500.05" x2="65.54" y2="485.95" stroke="#215a96" stroke-width="1.1" stroke-linecap="round"/>
<line x1="62.54" y1="502.85" x2="49.14" y2="510.60" stroke="#215a96" stroke-width="1.1" stroke-linecap="round"/>
<line x1="96.66" y1="483.15" x2="107.99" y2="476.60" stroke="#215a96" stroke-width="1.1" stroke-linecap="round"/>
<text x="109.50" y="477.20" fill="#215a96" stroke="#215a96" stroke-width="0.2" font-size="10.8" text-anchor="start">O</text>
<line x1="118.38" y1="476.00" x2="130.70" y2="483.10" stroke="#215a96" stroke-width="1.1" stroke-linecap="round"/>
<line x1="130.70" y1="483.10" x2="141.81" y2="476.70" stroke="#215a96" stroke-width="1.1" stroke-linecap="round"/>
<text x="144.10" y="477.20" fill="#215a96" stroke="#215a96" stroke-width="0.2" font-size="10.8" text-anchor="start">Br</text>
<path d="M125.8,472.4 Q121.39999999999999,479.79999999999995 125.8,487.2" fill="none" stroke="#215a96" stroke-width="1.0"/>
<path d="M133.60000000000002,472.4 Q138.0,479.79999999999995 133.60000000000002,487.2" fill="none" stroke="#215a96" stroke-width="1.0"/>
<text x="139.10" y="496.60" fill="#215a96" stroke="#215a96" stroke-width="0.2" font-size="10.8" text-anchor="start">5</text>
<text x="176.40" y="494.95" fill="#111111" stroke="#111111" stroke-width="0.2" font-size="10.0" text-anchor="middle">+</text>
<text x="72.30" y="535.90" fill="#111111" stroke="#111111" stroke-width="0.2" font-size="10.8" text-anchor="start">0.3 mmol</text>
<line x1="222.20" y1="471.40" x2="239.20" y2="481.20" stroke="#8e2528" stroke-width="1.1" stroke-linecap="round"/>
<line x1="239.20" y1="481.20" x2="239.20" y2="500.80" stroke="#8e2528" stroke-width="1.1" stroke-linecap="round"/>
<line x1="239.20" y1="500.80" x2="227.74" y2="507.40" stroke="#8e2528" stroke-width="1.1" stroke-linecap="round"/>
<line x1="216.66" y1="507.40" x2="205.20" y2="500.80" stroke="#8e2528" stroke-width="1.1" stroke-linecap="round"/>
<line x1="205.20" y1="500.80" x2="205.20" y2="481.20" stroke="#8e2528" stroke-width="1.1" stroke-linecap="round"/>
<line x1="205.20" y1="481.20" x2="222.20" y2="471.40" stroke="#8e2528" stroke-width="1.1" stroke-linecap="round"/>
<text x="218.00" y="514.50" fill="#8e2528" stroke="#8e2528" stroke-width="0.2" font-size="10.8" text-anchor="start">O</text>
<line x1="222.20" y1="458.10" x2="222.20" y2="471.40" stroke="#8e2528" stroke-width="1.1" stroke-linecap="round"/>
<text x="218.60" y="455.70" fill="#8e2528" stroke="#8e2528" stroke-width="0.2" font-size="10.8" text-anchor="start">Br</text>
<text x="196.70" y="538.80" fill="#111111" stroke="#111111" stroke-width="0.2" font-size="10.8" text-anchor="start">0.3 mmol</text>
<line x1="256.60" y1="491.60" x2="378.60" y2="491.60" stroke="#000" stroke-width="1.3" stroke-linecap="butt"/>
<polygon points="387.60,491.60 376.00,494.85 378.00,491.60 376.00,488.35" fill="#000"/>
<text x="265.90" y="485.20" fill="#111111" stroke="#111111" stroke-width="0.2" font-size="10.8" text-anchor="start">standard condition</text>
<text x="274.70" y="510.70" fill="#1f8a8c" stroke="#1f8a8c" stroke-width="0.2" font-size="10.8" text-anchor="start">2.0 eq. TEMPO</text>
<text x="378.10" y="528.40" fill="#215a96" stroke="#215a96" stroke-width="0.2" font-size="10.8" text-anchor="start">Ph</text>
<path d="M422.50,486.15 L439.56,496.00 L439.56,515.70 L422.50,525.55 L405.44,515.70 L405.44,496.00 Z" fill="none" stroke="#215a96" stroke-width="1.1" stroke-linecap="round" stroke-linejoin="round"/>
<line x1="423.42" y1="490.15" x2="435.64" y2="497.20" stroke="#215a96" stroke-width="1.1" stroke-linecap="round"/>
<line x1="435.64" y1="514.50" x2="423.42" y2="521.55" stroke="#215a96" stroke-width="1.1" stroke-linecap="round"/>
<line x1="408.44" y1="512.90" x2="408.44" y2="498.80" stroke="#215a96" stroke-width="1.1" stroke-linecap="round"/>
<line x1="405.44" y1="515.70" x2="392.04" y2="523.41" stroke="#215a96" stroke-width="1.1" stroke-linecap="round"/>
<line x1="439.56" y1="496.00" x2="450.89" y2="489.42" stroke="#215a96" stroke-width="1.1" stroke-linecap="round"/>
<text x="452.40" y="490.00" fill="#215a96" stroke="#215a96" stroke-width="0.2" font-size="10.8" text-anchor="start">O</text>
<line x1="461.28" y1="488.80" x2="473.60" y2="495.90" stroke="#215a96" stroke-width="1.1" stroke-linecap="round"/>
<line x1="473.60" y1="495.90" x2="490.60" y2="486.10" stroke="#215a96" stroke-width="1.1" stroke-linecap="round"/>
<line x1="490.60" y1="486.10" x2="502.06" y2="492.70" stroke="#e0282c" stroke-width="1.1" stroke-linecap="round"/>
<text x="503.40" y="499.80" fill="#8e2528" stroke="#8e2528" stroke-width="0.2" font-size="10.8" text-anchor="start">O</text>
<path d="M466.59999999999997,487.6 Q462.2,493.9 466.59999999999997,500.2" fill="none" stroke="#215a96" stroke-width="1.0"/>
<path d="M477.2,487.6 Q481.59999999999997,493.9 477.2,500.2" fill="none" stroke="#215a96" stroke-width="1.0"/>
<text x="477.80" y="513.50" fill="#215a96" stroke="#215a96" stroke-width="0.2" font-size="10.8" text-anchor="start">4</text>
<line x1="512.80" y1="492.90" x2="519.23" y2="489.20" stroke="#8e2528" stroke-width="1.1" stroke-linecap="round"/>
<text x="520.70" y="490.00" fill="#8e2528" stroke="#8e2528" stroke-width="0.2" font-size="10.8" text-anchor="start">N</text>
<line x1="524.60" y1="479.70" x2="524.60" y2="466.50" stroke="#8e2528" stroke-width="1.1" stroke-linecap="round"/>
<path d="M524.60,466.50 L541.60,456.70 L558.60,466.50 L558.60,486.10 L541.60,495.90" fill="none" stroke="#8e2528" stroke-width="1.1" stroke-linecap="round" stroke-linejoin="round"/>
<line x1="541.60" y1="495.90" x2="530.32" y2="489.40" stroke="#8e2528" stroke-width="1.1" stroke-linecap="round"/>
<line x1="524.60" y1="466.50" x2="518.00" y2="455.04" stroke="#8e2528" stroke-width="1.1" stroke-linecap="round"/>
<text x="501.70" y="453.30" fill="#8e2528" stroke="#8e2528" stroke-width="0.2" font-size="10.8" text-anchor="start">Me</text>
<line x1="524.60" y1="466.50" x2="510.20" y2="466.50" stroke="#8e2528" stroke-width="1.1" stroke-linecap="round"/>
<text x="491.70" y="470.10" fill="#8e2528" stroke="#8e2528" stroke-width="0.2" font-size="10.8" text-anchor="start">Me</text>
<line x1="541.60" y1="495.90" x2="534.30" y2="508.57" stroke="#8e2528" stroke-width="1.1" stroke-linecap="round"/>
<text x="518.90" y="516.60" fill="#8e2528" stroke="#8e2528" stroke-width="0.2" font-size="10.8" text-anchor="start">Me</text>
<line x1="541.60" y1="495.90" x2="547.60" y2="506.32" stroke="#8e2528" stroke-width="1.1" stroke-linecap="round"/>
<text x="545.70" y="516.60" fill="#8e2528" stroke="#8e2528" stroke-width="0.2" font-size="10.8" text-anchor="start">Me</text>
<text x="465.80" y="541.10" fill="#111111" stroke="#111111" stroke-width="0.2" font-size="10.8" text-anchor="start"><tspan font-weight="bold">95</tspan>, 41%</text>
</g>
</svg>
</body></html>
